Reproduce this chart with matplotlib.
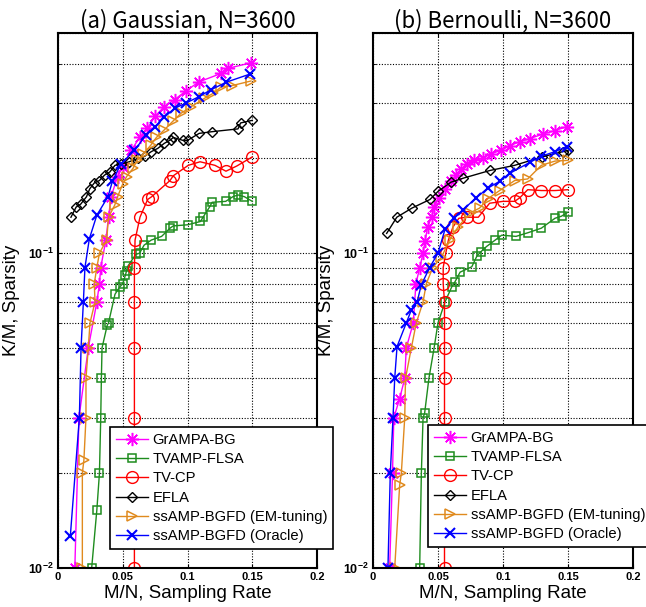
import matplotlib
matplotlib.use("Agg")
from matplotlib import pyplot as plt
from matplotlib.ticker import FixedLocator, LogLocator, NullFormatter, FixedFormatter

plt.rcParams['font.family'] = ['Liberation Sans', 'DejaVu Sans']
plt.rcParams['mathtext.fontset'] = 'custom'
plt.rcParams['mathtext.bf'] = 'Liberation Sans:bold'
plt.rcParams['mathtext.rm'] = 'Liberation Sans'

labels = ['GrAMPA-BG', 'TVAMP-FLSA', 'TV-CP', 'EFLA',
          'ssAMP-BGFD (EM-tuning)', 'ssAMP-BGFD (Oracle)']
titles = ['(a) Gaussian, N=3600', '(b) Bernoulli, N=3600']

# ---- (a) Gaussian ----
gauss_grampa_x = [0.013, 0.0162, 0.0234, 0.030, 0.032, 0.033, 0.037, 0.039, 0.041, 0.046, 0.050,
                  0.0566, 0.063, 0.069, 0.075, 0.082, 0.090, 0.099, 0.109, 0.126, 0.131, 0.149]
gauss_grampa_y = [0.010, 0.030, 0.050, 0.070, 0.080, 0.090, 0.110, 0.130, 0.151, 0.175, 0.188,
                  0.212, 0.233, 0.249, 0.272, 0.292, 0.307, 0.328, 0.350, 0.372, 0.386, 0.402]
gauss_tvamp_x = [0.026, 0.030, 0.032, 0.033, 0.0335, 0.034, 0.038, 0.039, 0.044, 0.0476, 0.050, 0.052,
                 0.053, 0.054, 0.060, 0.063, 0.0665, 0.072, 0.080, 0.0865, 0.089, 0.100, 0.110, 0.112,
                 0.117, 0.119, 0.1295, 0.135, 0.139, 0.144, 0.150]
gauss_tvamp_y = [0.010, 0.0153, 0.020, 0.030, 0.040, 0.050, 0.059, 0.060, 0.074, 0.078, 0.080, 0.085,
                 0.088, 0.091, 0.099, 0.100, 0.106, 0.110, 0.113, 0.120, 0.122, 0.123, 0.126, 0.130,
                 0.140, 0.145, 0.146, 0.151, 0.153, 0.151, 0.146]
gauss_tvcp_x = [0.059, 0.059, 0.059, 0.059, 0.059, 0.0595, 0.0633, 0.0692, 0.0723, 0.0865, 0.089,
                0.1006, 0.1097, 0.1212, 0.1297, 0.138, 0.150]
gauss_tvcp_y = [0.010, 0.030, 0.050, 0.070, 0.090, 0.110, 0.130, 0.148, 0.151, 0.170, 0.176,
                0.190, 0.195, 0.190, 0.182, 0.189, 0.202]
gauss_efla_x = [0.010, 0.014, 0.0175, 0.022, 0.0245, 0.028, 0.032, 0.036, 0.040, 0.044, 0.049, 0.055,
                0.062, 0.067, 0.072, 0.077, 0.082, 0.087, 0.089, 0.0965, 0.100, 0.109, 0.119, 0.139,
                0.141, 0.150]
gauss_efla_y = [0.130, 0.140, 0.143, 0.151, 0.160, 0.167, 0.170, 0.177, 0.181, 0.190, 0.192, 0.195,
                0.200, 0.203, 0.210, 0.215, 0.223, 0.229, 0.233, 0.228, 0.228, 0.240, 0.243, 0.248,
                0.259, 0.264]
gauss_em_x = [0.0188, 0.0188, 0.020, 0.0216, 0.0216, 0.0234, 0.0247, 0.0286, 0.028, 0.030, 0.032,
              0.0376, 0.039, 0.0438, 0.046, 0.050, 0.053, 0.058, 0.061, 0.066, 0.0716, 0.076, 0.082,
              0.089, 0.095, 0.103, 0.113, 0.120, 0.126, 0.134, 0.149]
gauss_em_y = [0.010, 0.020, 0.022, 0.030, 0.040, 0.050, 0.060, 0.070, 0.080, 0.090, 0.100,
              0.110, 0.130, 0.142, 0.151, 0.166, 0.175, 0.186, 0.197, 0.207, 0.220, 0.233, 0.246,
              0.263, 0.278, 0.292, 0.310, 0.322, 0.337, 0.340, 0.352]
gauss_oracle_x = [0.0095, 0.0165, 0.0178, 0.0196, 0.0208, 0.0242, 0.030, 0.0386, 0.042, 0.0486, 0.059,
                  0.068, 0.0746, 0.082, 0.090, 0.099, 0.109, 0.118, 0.130, 0.148]
gauss_oracle_y = [0.0126, 0.030, 0.050, 0.070, 0.090, 0.111, 0.132, 0.151, 0.169, 0.192, 0.212,
                  0.237, 0.251, 0.270, 0.288, 0.300, 0.314, 0.330, 0.349, 0.370]

# ---- (b) Bernoulli ----
bern_grampa_x = [0.0128, 0.015, 0.016, 0.0205, 0.0244, 0.0256, 0.031, 0.033, 0.036, 0.0385, 0.040,
                 0.042, 0.045, 0.047, 0.051, 0.055, 0.060, 0.064, 0.068, 0.072, 0.078, 0.0846, 0.091,
                 0.0987, 0.105, 0.113, 0.1205, 0.131, 0.140, 0.149]
bern_grampa_y = [0.010, 0.020, 0.030, 0.0345, 0.040, 0.050, 0.060, 0.080, 0.090, 0.100, 0.109,
                 0.121, 0.130, 0.140, 0.150, 0.160, 0.170, 0.177, 0.185, 0.192, 0.197, 0.200, 0.207,
                 0.212, 0.219, 0.226, 0.231, 0.239, 0.245, 0.252]
bern_tvamp_x = [0.0359, 0.0372, 0.0385, 0.0397, 0.043, 0.047, 0.050, 0.0554, 0.0605, 0.063, 0.067,
                0.076, 0.080, 0.083, 0.0874, 0.094, 0.099, 0.110, 0.119, 0.1295, 0.140, 0.145, 0.150]
bern_tvamp_y = [0.010, 0.020, 0.030, 0.031, 0.040, 0.050, 0.060, 0.070, 0.078, 0.081, 0.087,
                0.0905, 0.098, 0.101, 0.105, 0.110, 0.114, 0.113, 0.116, 0.120, 0.129, 0.131, 0.135]
bern_tvcp_x = [0.055, 0.055, 0.055, 0.055, 0.055, 0.055, 0.054, 0.054, 0.056, 0.058, 0.0615, 0.066,
               0.072, 0.081, 0.0897, 0.100, 0.109, 0.113, 0.119, 0.1295, 0.140, 0.150]
bern_tvcp_y = [0.010, 0.030, 0.040, 0.050, 0.060, 0.070, 0.080, 0.090, 0.100, 0.110, 0.121, 0.129,
               0.130, 0.130, 0.144, 0.146, 0.146, 0.150, 0.159, 0.158, 0.158, 0.159]
bern_efla_x = [0.0105, 0.0183, 0.030, 0.0438, 0.050, 0.060, 0.0695, 0.090, 0.109, 0.130, 0.146, 0.150]
bern_efla_y = [0.1155, 0.130, 0.139, 0.148, 0.157, 0.168, 0.173, 0.183, 0.190, 0.202, 0.210, 0.212]
bern_em_x = [0.0167, 0.0205, 0.0218, 0.0244, 0.025, 0.0295, 0.0333, 0.0385, 0.041, 0.046, 0.0526,
             0.059, 0.0654, 0.0744, 0.082, 0.0885, 0.0974, 0.109, 0.119, 0.1295, 0.140, 0.150]
bern_em_y = [0.010, 0.0183, 0.020, 0.030, 0.040, 0.050, 0.060, 0.070, 0.080, 0.090, 0.097,
             0.110, 0.121, 0.134, 0.139, 0.149, 0.158, 0.170, 0.172, 0.190, 0.196, 0.197]
bern_oracle_x = [0.0115, 0.0133, 0.0154, 0.0167, 0.0185, 0.0256, 0.0295, 0.034, 0.037, 0.0436, 0.050,
                 0.0554, 0.0623, 0.069, 0.0795, 0.0885, 0.0974, 0.105, 0.1205, 0.1295, 0.140, 0.149]
bern_oracle_y = [0.010, 0.020, 0.030, 0.040, 0.0505, 0.060, 0.066, 0.070, 0.079, 0.090, 0.100,
                 0.119, 0.129, 0.137, 0.150, 0.161, 0.169, 0.179, 0.194, 0.203, 0.210, 0.218]

panels = [
    [(gauss_grampa_x, gauss_grampa_y), (gauss_tvamp_x, gauss_tvamp_y), (gauss_tvcp_x, gauss_tvcp_y),
     (gauss_efla_x, gauss_efla_y), (gauss_em_x, gauss_em_y), (gauss_oracle_x, gauss_oracle_y)],
    [(bern_grampa_x, bern_grampa_y), (bern_tvamp_x, bern_tvamp_y), (bern_tvcp_x, bern_tvcp_y),
     (bern_efla_x, bern_efla_y), (bern_em_x, bern_em_y), (bern_oracle_x, bern_oracle_y)],
]

styles = [
    dict(color='#ff00ff', marker=(8, 2, 0), ms=9.5, mew=1.1),
    dict(color='#1e8c1e', marker='s', ms=5.5, mew=1.1, mfc='none'),
    dict(color='#ff0000', marker='o', ms=8.5, mew=1.0, mfc='none'),
    dict(color='#000000', marker='D', ms=5, mew=1.0, mfc='none'),
    dict(color='#e08a1e', marker='>', ms=7.5, mew=1.1, mfc='none'),
    dict(color='#0000ff', marker='x', ms=7, mew=1.5),
]

W, H = 646, 607
fig = plt.figure(figsize=(W / 100, H / 100), dpi=100)
axes_px = [(58, 317), (373, 633)]
top_px, bot_px = 33, 568
legend_px = [(110, 427), (428, 425)]

for i, (data, (x0, x1)) in enumerate(zip(panels, axes_px)):
    ax = fig.add_axes([x0 / W, 1 - bot_px / H, (x1 - x0) / W, (bot_px - top_px) / H])
    for (xs, ys), lab, st in zip(data, labels, styles):
        ax.plot(xs, ys, lw=1.0, label=lab, **st)
    ax.set_yscale('log')
    ax.set_xlim(0, 0.2)
    ax.set_ylim(0.01, 0.5)
    ax.set_xticks([0, 0.05, 0.1, 0.15, 0.2])
    ax.set_xticklabels(['0', '0.05', '0.1', '0.15', '0.2'], fontweight='bold', fontsize=8)
    ax.yaxis.set_major_locator(FixedLocator([0.01, 0.1]))
    ax.yaxis.set_major_formatter(FixedFormatter([r'$\mathbf{10^{-2}}$', r'$\mathbf{10^{-1}}$']))
    ax.yaxis.set_minor_locator(LogLocator(base=10, subs=range(2, 10)))
    ax.yaxis.set_minor_formatter(NullFormatter())
    for t in ax.get_yticklabels():
        t.set_fontsize(9)
    ax.tick_params(which='both', direction='in', top=True, right=True, length=3, pad=3)
    ax.tick_params(which='minor', length=2)
    ax.grid(True, which='major', ls=(0, (1, 1.5)), color='k', lw=0.8)
    ax.grid(True, which='minor', axis='y', ls=(0, (1, 1.5)), color='k', lw=0.8)
    for sp in ax.spines.values():
        sp.set_linewidth(1.5)
    ax.set_xlabel('M/N, Sampling Rate', fontsize=13.5, labelpad=2)
    ax.set_ylabel('K/M, Sparsity', fontsize=13.5, labelpad=6)
    ax.set_title(titles[i], fontsize=16, family=['Noto Sans CJK KR', 'DejaVu Sans'], pad=4)
    lx, ly = legend_px[i]
    leg = ax.legend(loc='upper left', bbox_to_anchor=(lx / W, 1 - ly / H), bbox_transform=fig.transFigure,
                    borderaxespad=0, fontsize=10.6, fancybox=False, edgecolor='k', framealpha=1,
                    handlelength=2.2, handletextpad=0.3, labelspacing=0.36, borderpad=0.4)
    leg.get_frame().set_linewidth(1.2)

fig.savefig('out.png', dpi=100)
